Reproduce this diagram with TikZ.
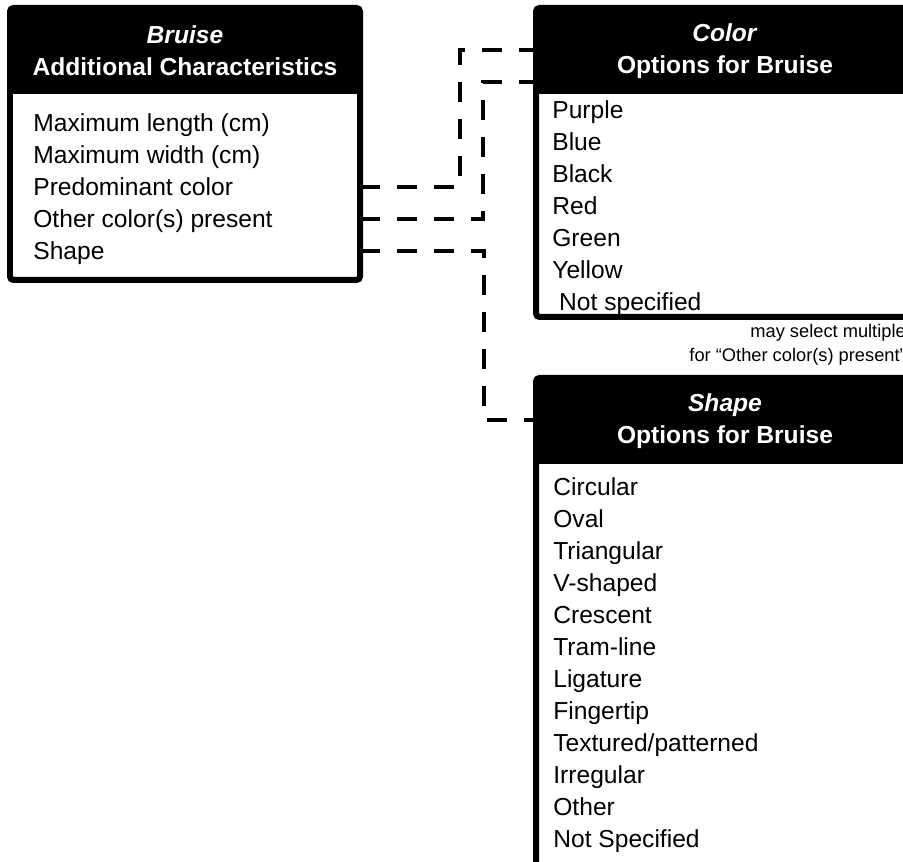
\documentclass[tikz,border=0pt]{standalone}
\usepackage{fontspec}
\setmainfont{Liberation Sans}
\usetikzlibrary{calc, positioning}

\begin{document}
\begin{tikzpicture}[
  panel/.style={draw, line width=0.12cm, fill=white, rounded corners=2pt, outer sep=0pt, anchor=north west},
  headtxt/.style={text=white, align=center, font=\fontsize{14}{18.2}\selectfont\bfseries},
  entry/.style={anchor=west, inner sep=0pt, text height=0.36cm, text depth=0pt, font=\fontsize{14}{18.2}\selectfont},
  link/.style={line width=0.08cm, dash pattern=on 0.4cm off 0.34cm},
  remark/.style={anchor=east, align=right, font=\fontsize{10.4}{13.6}\selectfont}
]
\clip (0,0) rectangle (18.06,17.24);
% bruise panel
\node[panel, minimum width=7cm, minimum height=5.44cm] (bruise) at (0.2,17.08) {};
\fill (bruise.north west) rectangle ($(bruise.north east)+(0,-1.72)$);
\node[headtxt] (bruisehead) at ($(bruise.north)+(0,-0.86)$) {\textit{Bruise}\\Additional Characteristics};
\foreach \t [count=\i] in {Maximum length (cm), Maximum width (cm), Predominant color, Other color(s) present, Shape}{
  \node[entry] (bl\i) at (0.66,{14.78-(\i-1)*0.64}) {\t};
}
% color panel
\node[panel, minimum width=7.56cm, minimum height=6.18cm] (colr) at (10.72,17.08) {};
\fill (colr.north west) rectangle ($(colr.north east)+(0,-1.72)$);
\node[headtxt] (colrhead) at ($(colr.north)+(0,-0.86)$) {\textit{Color}\\Options for Bruise};
\foreach \t [count=\i] in {Purple, Blue, Black, Red, Green, Yellow, \ Not specified}{
  \node[entry] (cl\i) at (11.04,{15.04-(\i-1)*0.64}) {\t};
}
\node[remark] (colrnote) at (18.24,10.34) {may select multiple\\for “Other color(s) present”};
% shape panel
\node[panel, minimum width=7.56cm, minimum height=9.76cm] (shp) at (10.72,9.68) {};
\fill (shp.north west) rectangle ($(shp.north east)+(0,-1.72)$);
\node[headtxt] (shphead) at ($(shp.north)+(0,-0.86)$) {\textit{Shape}\\Options for Bruise};
\foreach \t [count=\i] in {Circular, Oval, Triangular, V-shaped, Crescent, Tram-line, Ligature, Fingertip, Textured/patterned, Irregular, Other, Not Specified}{
  \node[entry] (sl\i) at (11.06,{7.5-(\i-1)*0.64}) {\t};
}
% connectors
\coordinate (cin1) at ($(colr.north west)+(0,-0.84)$);
\coordinate (cin2) at ($(colr.north west)+(0,-1.48)$);
\coordinate (shin) at ($(shp.north west)+(0,-0.84)$);
\draw[link] (bruise.east |- bl3) -| ([xshift=-1.52cm]cin1) -- (cin1);
\draw[link] (bruise.east |- bl4) -| ([xshift=-1.06cm]cin2) -- (cin2);
\draw[link] (bruise.east |- bl5) -| ([xshift=-1.04cm]shin) -- (shin);
\end{tikzpicture}
\end{document}
